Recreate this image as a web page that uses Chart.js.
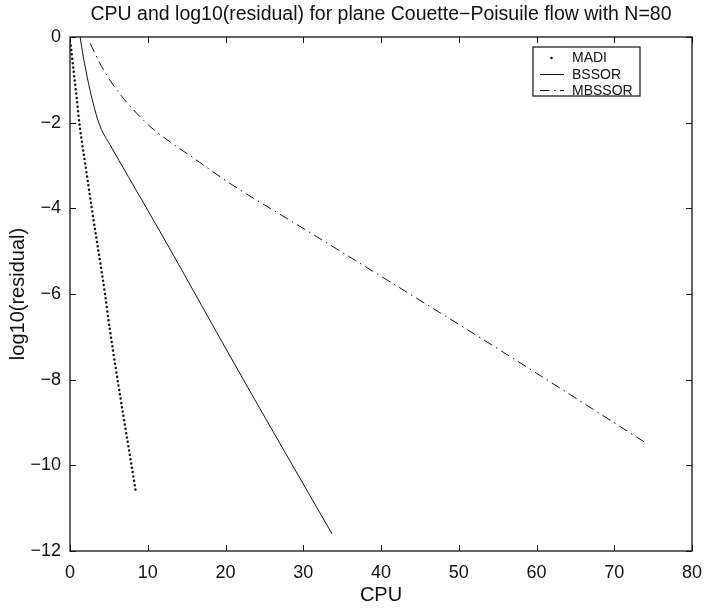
<!DOCTYPE html>
<html lang="en">
<head>
    <meta charset="UTF-8">
    <title>CPU and log10(residual)</title>
    <script src="https://cdn.jsdelivr.net/npm/chart.js"></script>
    <style>
        html, body {
            margin: 0;
            padding: 0;
            background: #ffffff;
        }
        .chart-box {
            width: 708px;
            height: 608px;
        }
    </style>
</head>
<body>
    <div class="chart-box">
        <canvas id="residualChart" width="708" height="608"></canvas>
    </div>

    <script>
        // values
        const titleText = 'CPU and log10(residual) for plane Couette\u2212Poisuile flow with N=80';
        const seriesNames = ['MADI', 'BSSOR', 'MBSSOR'];

        const madiCpu = [0.1, 0.5, 0.85, 1.2, 2.15, 2.8, 4.5, 5.1, 8.45];
        const madiRes = [-0.2, -0.85, -1.4, -2.0, -3.2, -4.0, -6.0, -6.8, -10.6];

        const bssorCpu = [1.3, 1.7, 2.4, 3.2, 3.9, 5.1, 7.5, 11.6, 22.3, 33.7];
        const bssorRes = [0, -0.45, -1.1, -1.7, -2.1, -2.5, -3.26, -4.55, -8.0, -11.6];

        const mbssorCpu = [2.6, 3.8, 5.1, 7.0, 9.0, 10.3, 16.7, 20.6, 30.2, 55.3, 74.0];
        const mbssorRes = [-0.15, -0.6, -1.0, -1.46, -1.86, -2.09, -2.93, -3.42, -4.49, -7.31, -9.47];

        const xTicks = [0, 10, 20, 30, 40, 50, 60, 70, 80];
        const yTicks = [0, -2, -4, -6, -8, -10, -12];

        const ink = '#111111';
        const fontFamily = '"Liberation Sans", Arial, Helvetica, sans-serif';

        function toPoints(xs, ys) {
            return xs.map((x, i) => ({ x: x, y: ys[i] }));
        }

        function minusSign(v) {
            return String(v).replace('-', '\u2212');
        }

        // title drawn above the axes box
        const titlePlugin = {
            id: 'plotTitle',
            afterDraw(chart) {
                const ctx = chart.ctx;
                const area = chart.chartArea;
                ctx.save();
                ctx.fillStyle = ink;
                ctx.font = '19.5px ' + fontFamily;
                ctx.textAlign = 'center';
                ctx.textBaseline = 'middle';
                ctx.fillText(titleText, (area.left + area.right) / 2, 15);
                ctx.restore();
            }
        };

        // matlab style box with inward ticks on all four sides
        const framePlugin = {
            id: 'frameBox',
            afterDatasetsDraw(chart) {
                const ctx = chart.ctx;
                const a = chart.chartArea;
                const xs = chart.scales.x;
                const ys = chart.scales.y;
                const len = 6;
                ctx.save();
                ctx.strokeStyle = ink;
                ctx.lineWidth = 1.3;
                ctx.strokeRect(a.left, a.top, a.right - a.left, a.bottom - a.top);
                ctx.lineWidth = 1;
                ctx.beginPath();
                xTicks.forEach(v => {
                    const px = Math.round(xs.getPixelForValue(v)) + 0.5;
                    ctx.moveTo(px, a.bottom); ctx.lineTo(px, a.bottom - len);
                    ctx.moveTo(px, a.top); ctx.lineTo(px, a.top + len);
                });
                yTicks.forEach(v => {
                    const py = Math.round(ys.getPixelForValue(v)) + 0.5;
                    ctx.moveTo(a.left, py); ctx.lineTo(a.left + len, py);
                    ctx.moveTo(a.right, py); ctx.lineTo(a.right - len, py);
                });
                ctx.stroke();
                ctx.restore();
            }
        };

        // legend box in the upper right corner
        const legendPlugin = {
            id: 'boxLegend',
            afterDraw(chart) {
                const ctx = chart.ctx;
                const box = { x: 533, y: 47, w: 107, h: 49 };
                const rowY = [58, 74.5, 90.5];
                ctx.save();
                ctx.fillStyle = '#ffffff';
                ctx.fillRect(box.x, box.y, box.w, box.h);
                ctx.strokeStyle = ink;
                ctx.lineWidth = 1.2;
                ctx.strokeRect(box.x, box.y, box.w, box.h);

                chart.data.datasets.forEach((ds, i) => {
                    const y = rowY[i];
                    ctx.strokeStyle = ds.borderColor;
                    ctx.fillStyle = ds.borderColor;
                    if (i === 0) {
                        ctx.beginPath();
                        ctx.arc(551.5, y, 1.3, 0, Math.PI * 2);
                        ctx.fill();
                    } else {
                        ctx.lineWidth = 1;
                        ctx.setLineDash(ds.borderDash || []);
                        ctx.beginPath();
                        ctx.moveTo(540, y);
                        ctx.lineTo(564, y);
                        ctx.stroke();
                        ctx.setLineDash([]);
                    }
                    ctx.fillStyle = ink;
                    ctx.font = '14px ' + fontFamily;
                    ctx.textAlign = 'left';
                    ctx.textBaseline = 'middle';
                    ctx.fillText(ds.label, 572, y + 0.5);
                });
                ctx.restore();
            }
        };

        const ctx = document.getElementById('residualChart').getContext('2d');
        new Chart(ctx, {
            type: 'scatter',
            data: {
                datasets: [
                    {
                        label: seriesNames[0],
                        data: toPoints(madiCpu, madiRes),
                        showLine: true,
                        borderColor: ink,
                        borderWidth: 2.5,
                        borderDash: [0, 4.4],
                        borderCapStyle: 'round',
                        pointRadius: 0,
                        cubicInterpolationMode: 'monotone'
                    },
                    {
                        label: seriesNames[1],
                        data: toPoints(bssorCpu, bssorRes),
                        showLine: true,
                        borderColor: ink,
                        borderWidth: 1,
                        pointRadius: 0,
                        cubicInterpolationMode: 'monotone'
                    },
                    {
                        label: seriesNames[2],
                        data: toPoints(mbssorCpu, mbssorRes),
                        showLine: true,
                        borderColor: ink,
                        borderWidth: 1,
                        borderDash: [9.5, 4.5, 1.5, 4.5],
                        pointRadius: 0,
                        cubicInterpolationMode: 'monotone'
                    }
                ]
            },
            options: {
                responsive: false,
                animation: false,
                devicePixelRatio: 1,
                layout: {
                    padding: { top: 37, right: 16, left: 0, bottom: 0 }
                },
                plugins: {
                    legend: { display: false },
                    tooltip: { enabled: false }
                },
                scales: {
                    x: {
                        type: 'linear',
                        min: 0,
                        max: 80,
                        afterBuildTicks: scale => {
                            scale.ticks = xTicks.map(v => ({ value: v }));
                        },
                        afterFit: scale => {
                            scale.height = 57;
                            scale.paddingLeft = 0;
                            scale.paddingRight = 0;
                        },
                        grid: { display: false, drawTicks: false },
                        border: { display: false },
                        ticks: {
                            color: ink,
                            padding: 11,
                            maxRotation: 0,
                            font: { size: 18, family: fontFamily },
                            callback: v => minusSign(v)
                        },
                        title: {
                            display: true,
                            text: 'CPU',
                            color: ink,
                            font: { size: 20, family: fontFamily },
                            padding: { top: 0, bottom: 1 }
                        }
                    },
                    y: {
                        type: 'linear',
                        min: -12,
                        max: 0,
                        afterBuildTicks: scale => {
                            scale.ticks = yTicks.map(v => ({ value: v }));
                        },
                        afterFit: scale => {
                            scale.width = 70;
                            scale.paddingTop = 0;
                            scale.paddingBottom = 0;
                        },
                        grid: { display: false, drawTicks: false },
                        border: { display: false },
                        ticks: {
                            color: ink,
                            padding: 9,
                            font: { size: 18, family: fontFamily },
                            callback: v => minusSign(v)
                        },
                        title: {
                            display: true,
                            text: 'log10(residual)',
                            color: ink,
                            font: { size: 20, family: fontFamily },
                            padding: { top: 6, bottom: 0 }
                        }
                    }
                }
            },
            plugins: [framePlugin, titlePlugin, legendPlugin]
        });
    </script>
</body>
</html>
